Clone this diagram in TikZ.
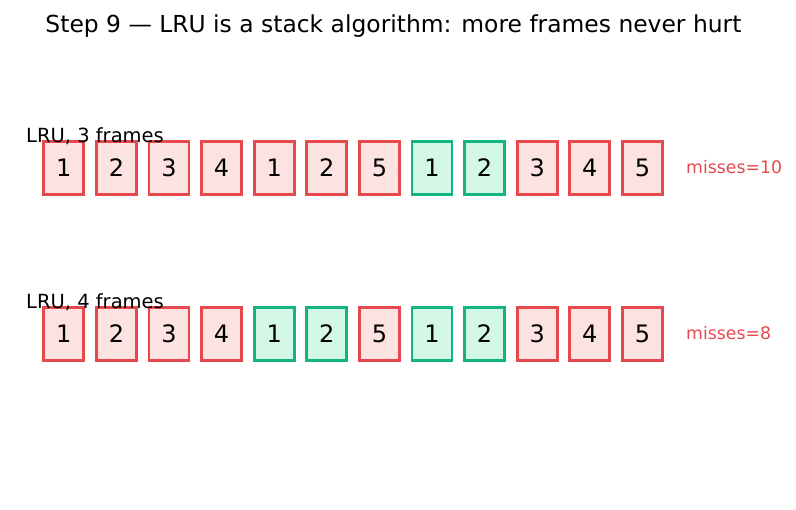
\documentclass[tikz,border=0pt]{standalone}
\usepackage{fontspec}
\setmainfont{DejaVu Sans}
\usepackage{xcolor}

\begin{document}
\begin{tikzpicture}[x=1pt,y=-1pt,
  frame/.style={draw,line width=2.8pt,minimum width=40pt,minimum height=53pt,inner sep=0pt,font=\fontsize{24}{24}\selectfont},
  miss/.style={frame,draw=missedge,fill=missfill},
  hit/.style={frame,draw=hitedge,fill=hitfill},
  rowlabel/.style={anchor=base west,inner sep=0pt,font=\fontsize{19.5}{19.5}\selectfont},
  tally/.style={anchor=base west,inner sep=0pt,text=missedge,font=\fontsize{17.3}{17.3}\selectfont}]
\definecolor{missedge}{HTML}{E5484D}
\definecolor{missfill}{HTML}{FDE2E2}
\definecolor{hitedge}{HTML}{13B57F}
\definecolor{hitfill}{HTML}{D3F8E6}
\useasboundingbox (0,0) rectangle (796,510);
\node[anchor=base,inner sep=0pt] (title) at (393.5,32.3) {\fontsize{23.4}{23.4}\selectfont Step 9 — LRU is a stack algorithm: more frames never hurt};
% three frames
  \foreach \pg/\st [count=\i from 0] in {1/miss,2/miss,3/miss,4/miss,1/miss,2/miss,5/miss,1/hit,2/hit,3/miss,4/miss,5/miss}
  {  \node [\st] (a\i) at (63.8+52.6*\i,168) {\pg};}
\node[rowlabel] (lbl3) at (26,143) {LRU, 3 frames};
\node[tally] (cnt3) at (686,173.3) {misses=10};
% four frames
  \foreach \pg/\st [count=\i from 0] in {1/miss,2/miss,3/miss,4/miss,1/hit,2/hit,5/miss,1/hit,2/hit,3/miss,4/miss,5/miss}
  {  \node [\st] (b\i) at (63.8+52.6*\i,334) {\pg};}
\node[rowlabel] (lbl4) at (26,309) {LRU, 4 frames};
\node[tally] (cnt4) at (686,339.3) {misses=8};
\end{tikzpicture}
\end{document}
